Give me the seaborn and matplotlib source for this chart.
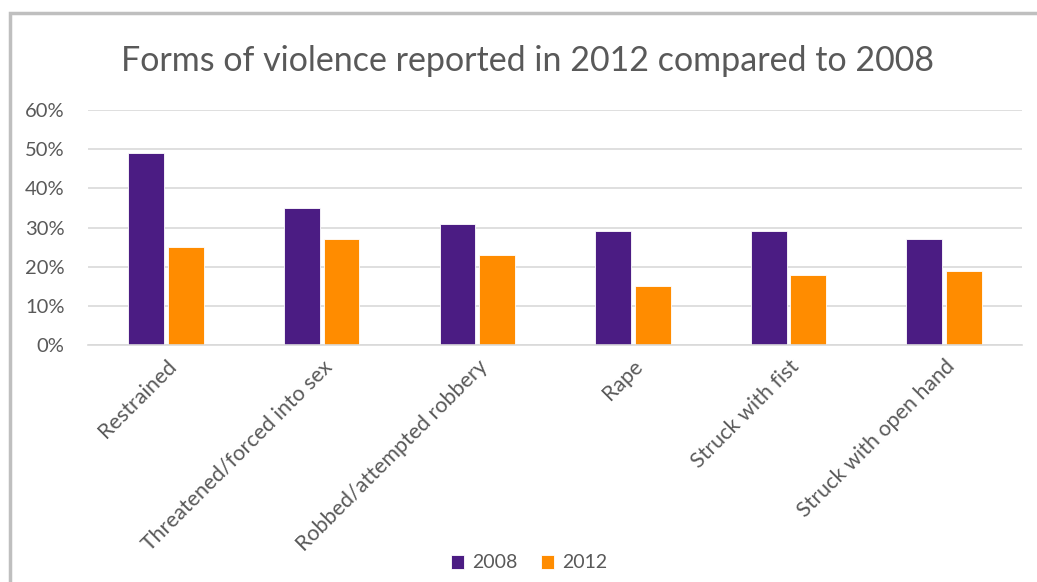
import pandas as pd
import matplotlib.pyplot as plt
import seaborn as sns
from matplotlib.patches import Rectangle
from matplotlib.ticker import PercentFormatter

categories = ['Restrained', 'Threatened/forced into sex', 'Robbed/attempted robbery',
              'Rape', 'Struck with fist', 'Struck with open hand']
values_2008 = [49, 35, 31, 29, 29, 27]
values_2012 = [25, 27, 23, 15, 18, 19]
years = ['2008', '2012']
colors = ['#4B1C83', '#FF8C00']

df = pd.DataFrame({
    'category': categories * 2,
    'year': [years[0]] * len(categories) + [years[1]] * len(categories),
    'value': values_2008 + values_2012,
})

sns.set_style('white')
plt.rcParams['font.family'] = ['Lato', 'DejaVu Sans']
text_color = '#595959'

fig = plt.figure(figsize=(10.37, 5.82), dpi=100)
ax = fig.add_axes([0.085, 0.407, 0.9005, 0.404])

sns.barplot(data=df, x='category', y='value', hue='year', palette=colors,
            saturation=1, width=0.51, gap=0.1, ax=ax, edgecolor='white', linewidth=0.6)

ax.set_ylim(0, 60)
ax.set_yticks(range(0, 61, 10))
ax.yaxis.set_major_formatter(PercentFormatter(decimals=0))
ax.grid(axis='y', color='#D9D9D9', linewidth=1.2)
ax.set_axisbelow(True)
for side in ['top', 'right', 'left']:
    ax.spines[side].set_visible(False)
ax.spines['bottom'].set_color('#D9D9D9')
ax.spines['bottom'].set_linewidth(1.2)
ax.set_xlabel('')
ax.set_ylabel('')
ax.tick_params(axis='y', length=0, pad=17, labelsize=14.5, labelcolor=text_color)
ax.tick_params(axis='x', length=0, pad=8, labelsize=15.5, labelcolor=text_color)
plt.setp(ax.get_xticklabels(), rotation=45, ha='right', rotation_mode='anchor')

ax.set_title('Forms of violence reported in 2012 compared to 2008',
             fontsize=24.5, color=text_color, pad=28, x=0.471)

leg = ax.legend(loc='center', bbox_to_anchor=(0.51, 1 - 563 / 582), bbox_transform=fig.transFigure,
                ncol=2, frameon=False, fontsize=14, handlelength=0.7, handleheight=0.7,
                handletextpad=0.4, columnspacing=1.2)
for t in leg.get_texts():
    t.set_color(text_color)

fig.patches.append(Rectangle((10 / 1037, -0.05), 1.2, 1 - 13 / 582 + 0.05,
                             transform=fig.transFigure, fill=False,
                             edgecolor='#BFBFBF', linewidth=2.5))

plt.savefig('out.png', dpi=100)
plt.close()
